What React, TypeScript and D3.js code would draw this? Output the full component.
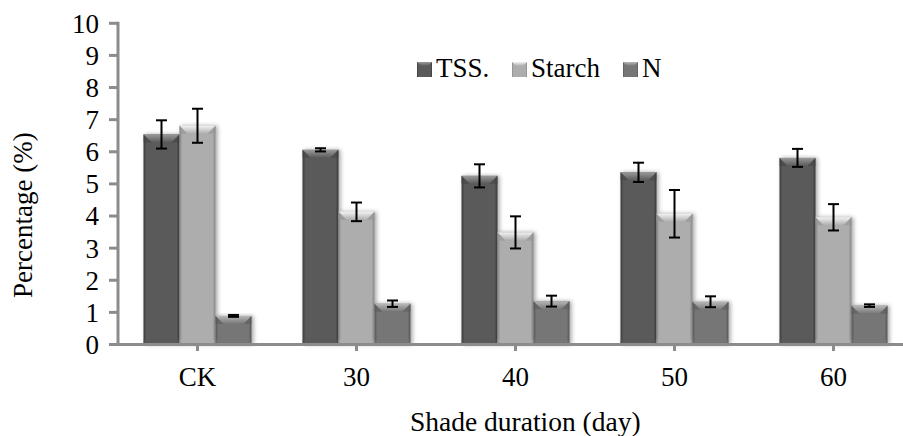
import React from "react";
import * as d3 from "d3";

const categories = ["CK", "30", "40", "50", "60"];
const seriesNames = ["TSS.", "Starch", "N"];
const tssValues = [6.54, 6.06, 5.25, 5.36, 5.81];
const tssErrors = [0.44, 0.05, 0.36, 0.3, 0.28];
const starchValues = [6.81, 4.13, 3.49, 4.07, 3.96];
const starchErrors = [0.53, 0.29, 0.5, 0.74, 0.41];
const nValues = [0.89, 1.27, 1.35, 1.33, 1.21];
const nErrors = [0.03, 0.1, 0.17, 0.17, 0.04];
const yTicks = [0, 1, 2, 3, 4, 5, 6, 7, 8, 9, 10];

const W = 903;
const H = 436;
const FONT = "'Liberation Serif', 'Times New Roman', serif";

const palettes = [
  { edge: "#383838", mid: "#5a5a5a", hiTop: "#9a9a9a", hiBot: "#5a5a5a", corner: "#444" },
  { edge: "#858585", mid: "#adadad", hiTop: "#f2f2f2", hiBot: "#adadad", corner: "#959595" },
  { edge: "#555555", mid: "#767676", hiTop: "#b8b8b8", hiBot: "#767676", corner: "#5c5c5c" },
];

export default function App() {
  const x0 = 118;
  const x = d3.scaleBand<string>().domain(categories).range([x0, x0 + 159 * 5]).paddingInner(0).paddingOuter(0);
  const bw = x.bandwidth();
  const groupW = 108;
  const xi = d3.scaleBand<string>().domain(seriesNames).range([(bw - groupW) / 2, (bw + groupW) / 2]).padding(0);
  const y = d3.scaleLinear().domain([0, 10]).range([344.5, 23.3]);

  const series = [
    { name: seriesNames[0], values: tssValues, errors: tssErrors },
    { name: seriesNames[1], values: starchValues, errors: starchErrors },
    { name: seriesNames[2], values: nValues, errors: nErrors },
  ];

  const legendX = [417, 512, 623];
  const bev = 8;

  return (
    <svg width={W} height={H} style={{ position: "absolute", left: 0, top: 0, background: "#fff" }} fontFamily={FONT}>
      <defs>
        <filter id="shadow" x="-30%" y="-10%" width="160%" height="120%">
          <feDropShadow dx="2" dy="0" stdDeviation="2" floodColor="#000" floodOpacity="0.35" />
        </filter>
        {palettes.map((p, i) => (
          <React.Fragment key={i}>
            <linearGradient id={`body${i}`} x1="0" x2="1" y1="0" y2="0">
              <stop offset="0" stopColor={p.edge} />
              <stop offset="0.08" stopColor={p.mid} />
              <stop offset="0.5" stopColor={p.mid} />
              <stop offset="0.92" stopColor={p.mid} />
              <stop offset="1" stopColor={p.edge} />
            </linearGradient>
            <linearGradient id={`hi${i}`} x1="0" x2="0" y1="0" y2="1">
              <stop offset="0" stopColor={p.hiTop} />
              <stop offset="1" stopColor={p.hiBot} />
            </linearGradient>
          </React.Fragment>
        ))}
      </defs>

      {/* bars */}
      {series.map((s, si) =>
        categories.map((c, ci) => {
          const bx = (x(c) as number) + (xi(s.name) as number);
          const w = xi.bandwidth();
          const top = y(s.values[ci]);
          const bottom = y(0);
          const b = Math.min(bev, (bottom - top) / 2);
          return (
            <g key={`${si}-${ci}`}>
              <rect x={bx} y={top} width={w} height={bottom - top} fill={`url(#body${si})`} filter="url(#shadow)" />
              <polygon
                points={`${bx},${top} ${bx + w},${top} ${bx + w - b},${top + b} ${bx + b},${top + b}`}
                fill={`url(#hi${si})`}
              />
              <polygon points={`${bx},${top} ${bx + b},${top + b} ${bx},${top + b}`} fill={palettes[si].corner} opacity={0.6} />
              <polygon points={`${bx + w},${top} ${bx + w - b},${top + b} ${bx + w},${top + b}`} fill={palettes[si].corner} opacity={0.6} />
              <rect x={bx} y={bottom - 5} width={w} height={5} fill={palettes[si].mid} opacity={0.5} />
            </g>
          );
        })
      )}

      {/* error bars */}
      {series.map((s, si) =>
        categories.map((c, ci) => {
          const cx = (x(c) as number) + (xi(s.name) as number) + xi.bandwidth() / 2;
          const hi = y(s.values[ci] + s.errors[ci]);
          const lo = y(s.values[ci] - s.errors[ci]);
          return (
            <g key={`e${si}-${ci}`} stroke="#000" strokeWidth={2}>
              <line x1={cx} x2={cx} y1={hi} y2={lo} />
              <line x1={cx - 5.5} x2={cx + 5.5} y1={hi} y2={hi} />
              <line x1={cx - 5.5} x2={cx + 5.5} y1={lo} y2={lo} />
            </g>
          );
        })
      )}

      {/* y axis */}
      <line x1={x0} x2={x0} y1={y(10) - 1.5} y2={y(0) + 1.5} stroke="#8c8c8c" strokeWidth={3} />
      {yTicks.map((t) => (
        <g key={t}>
          <line x1={109} x2={x0} y1={y(t)} y2={y(t)} stroke="#8c8c8c" strokeWidth={3} />
          <text x={99} y={y(t)} dy="0.35em" textAnchor="end" fontSize={27} fill="#000">
            {t}
          </text>
        </g>
      ))}

      {/* x axis */}
      <line x1={x0 - 1.5} x2={x0 + 159 * 5} y1={y(0)} y2={y(0)} stroke="#8c8c8c" strokeWidth={3} />
      {categories.map((c) => {
        const cx = (x(c) as number) + bw / 2;
        return (
          <g key={c}>
            <line x1={cx} x2={cx} y1={y(0)} y2={y(0) + 6.5} stroke="#8c8c8c" strokeWidth={3} />
            <text x={cx} y={386} textAnchor="middle" fontSize={27} fill="#000">
              {c}
            </text>
          </g>
        );
      })}

      {/* axis titles */}
      <text x={410} y={431} fontSize={27.5} fill="#000">
        Shade duration (day)
      </text>
      <text transform={`translate(32,298) rotate(-90)`} fontSize={27} fill="#000">
        Percentage (%)
      </text>

      {/* legend */}
      {series.map((s, si) => (
        <g key={`l${si}`}>
          <rect x={legendX[si]} y={62} width={15} height={15} fill={`url(#body${si})`} />
          <polygon
            points={`${legendX[si]},62 ${legendX[si] + 15},62 ${legendX[si] + 11},66 ${legendX[si] + 4},66`}
            fill={`url(#hi${si})`}
          />
          <text x={legendX[si] + 19} y={77} fontSize={27} fill="#000">
            {s.name}
          </text>
        </g>
      ))}
    </svg>
  );
}
